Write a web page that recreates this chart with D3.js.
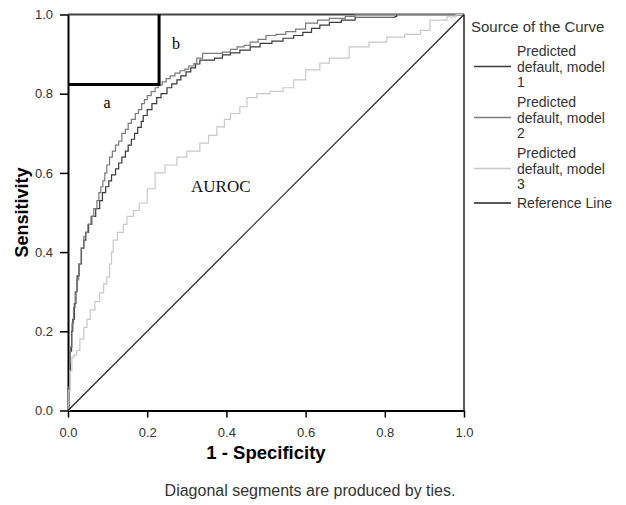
<!DOCTYPE html>
<html>
<head>
<meta charset="utf-8">
<script src="https://cdn.jsdelivr.net/npm/d3@7"></script>
<style>
  body { margin: 0; background: #fff; }
  svg { display: block; }
</style>
</head>
<body>
<svg id="chart" width="626" height="505"></svg>
<script>
// ROC points [1 - specificity, sensitivity]
const model1 = [[0,0],[0.002,0.05],[0.004,0.1],[0.006,0.15],[0.009,0.2],[0.012,0.23],[0.016,0.27],[0.02,0.3],[0.023,0.34],[0.028,0.37],[0.034,0.41],[0.04,0.43],[0.045,0.45],[0.052,0.47],[0.06,0.49],[0.07,0.51],[0.08,0.53],[0.087,0.55],[0.095,0.565],[0.103,0.58],[0.11,0.595],[0.12,0.61],[0.128,0.625],[0.136,0.64],[0.145,0.655],[0.152,0.67],[0.16,0.685],[0.168,0.7],[0.176,0.715],[0.185,0.73],[0.19,0.745],[0.2,0.76],[0.212,0.775],[0.224,0.79],[0.235,0.8],[0.25,0.815],[0.262,0.825],[0.275,0.835],[0.285,0.845],[0.298,0.855],[0.31,0.865],[0.322,0.875],[0.333,0.885],[0.37,0.89],[0.39,0.898],[0.41,0.903],[0.434,0.91],[0.46,0.918],[0.485,0.927],[0.515,0.933],[0.543,0.94],[0.57,0.947],[0.593,0.955],[0.615,0.965],[0.636,0.973],[0.66,0.98],[0.69,0.986],[0.725,0.993],[0.826,0.995],[0.83,1],[1,1]];
const model2 = [[0,0],[0.002,0.06],[0.004,0.12],[0.006,0.16],[0.01,0.22],[0.014,0.26],[0.018,0.3],[0.022,0.33],[0.027,0.37],[0.033,0.41],[0.04,0.44],[0.045,0.45],[0.05,0.47],[0.058,0.49],[0.065,0.51],[0.073,0.53],[0.078,0.55],[0.083,0.565],[0.088,0.58],[0.093,0.6],[0.098,0.62],[0.105,0.64],[0.112,0.655],[0.12,0.67],[0.128,0.68],[0.136,0.7],[0.145,0.71],[0.152,0.725],[0.16,0.735],[0.17,0.75],[0.178,0.76],[0.186,0.775],[0.193,0.785],[0.2,0.795],[0.21,0.805],[0.22,0.815],[0.228,0.822],[0.238,0.83],[0.248,0.838],[0.258,0.845],[0.27,0.852],[0.283,0.858],[0.295,0.862],[0.305,0.87],[0.318,0.876],[0.325,0.89],[0.34,0.902],[0.39,0.905],[0.41,0.912],[0.427,0.918],[0.445,0.922],[0.46,0.93],[0.48,0.937],[0.5,0.947],[0.525,0.95],[0.55,0.957],[0.575,0.963],[0.6,0.978],[0.63,0.986],[0.66,0.99],[0.7,0.995],[0.725,1],[1,1]];
const model3 = [[0,0],[0.002,0.05],[0.005,0.1],[0.01,0.135],[0.015,0.14],[0.022,0.152],[0.03,0.18],[0.04,0.21],[0.048,0.23],[0.056,0.254],[0.068,0.275],[0.08,0.297],[0.09,0.32],[0.098,0.337],[0.105,0.37],[0.11,0.4],[0.114,0.43],[0.125,0.45],[0.14,0.47],[0.149,0.49],[0.165,0.505],[0.18,0.524],[0.2,0.56],[0.22,0.6],[0.245,0.62],[0.275,0.64],[0.3,0.655],[0.333,0.675],[0.355,0.695],[0.376,0.716],[0.395,0.735],[0.41,0.75],[0.434,0.767],[0.452,0.79],[0.477,0.8],[0.51,0.806],[0.543,0.815],[0.57,0.835],[0.6,0.86],[0.636,0.877],[0.66,0.89],[0.71,0.918],[0.76,0.93],[0.805,0.943],[0.85,0.95],[0.89,0.96],[0.914,0.986],[0.957,0.994],[0.98,1],[1,1]];
const refLine = [[0,0],[1,1]];

const ticks = [0, 0.2, 0.4, 0.6, 0.8, 1.0];
const seriesNames = [
  ["Predicted", "default, model", "1"],
  ["Predicted", "default, model", "2"],
  ["Predicted", "default, model", "3"],
  ["Reference Line"]
];
const seriesColors = ["#3a3a3a", "#7a7a7a", "#c8c8c8", "#222"];
// corner of the a/b box (a point on the curve)
const boxPoint = [0.23, 0.823];

const svg = d3.select("#chart");
const plotLeft = 68, plotRight = 464, plotTop = 14.5, plotBottom = 410.5;
const sans = "Arial, 'Liberation Sans', sans-serif";
const serif = "'Liberation Serif', 'Times New Roman', serif";

const x = d3.scaleLinear().domain([0, 1]).range([plotLeft, plotRight]);
const y = d3.scaleLinear().domain([0, 1]).range([plotBottom, plotTop]);

const fmt = d3.format(".1f");

// axes
const xAxis = svg.append("g")
    .attr("transform", `translate(0,${plotBottom})`)
    .call(d3.axisBottom(x).tickValues(ticks).tickFormat(fmt).tickSize(7).tickSizeOuter(0));
const yAxis = svg.append("g")
    .attr("transform", `translate(${plotLeft},0)`)
    .call(d3.axisLeft(y).tickValues(ticks).tickFormat(fmt).tickSize(8).tickSizeOuter(0));

[xAxis, yAxis].forEach(g => {
  g.select(".domain").attr("stroke", "#000").attr("stroke-width", 2);
  g.selectAll(".tick line").attr("stroke", "#000").attr("stroke-width", 1.5);
  g.selectAll(".tick text")
    .attr("fill", "#333")
    .style("font", `13px ${sans}`);
});
xAxis.selectAll(".tick text").attr("dy", "1.27em");
yAxis.selectAll(".tick text").attr("dx", "-0.3em");

// top and right frame
svg.append("line")
    .attr("x1", plotLeft).attr("x2", plotRight).attr("y1", plotTop).attr("y2", plotTop)
    .attr("stroke", "#444").attr("stroke-width", 2);
svg.append("line")
    .attr("x1", plotRight).attr("x2", plotRight).attr("y1", plotTop).attr("y2", plotBottom)
    .attr("stroke", "#222").attr("stroke-width", 1.5);

// curves
const line = d3.line()
    .x(d => x(d[0]))
    .y(d => y(d[1]))
    .curve(d3.curveStepAfter);

const curves = [model1, model2, model3];
curves.forEach((data, i) => {
  svg.append("path")
      .datum(data)
      .attr("fill", "none")
      .attr("stroke", seriesColors[i])
      .attr("stroke-width", 1.2)
      .attr("d", line);
});

svg.append("path")
    .datum(refLine)
    .attr("fill", "none")
    .attr("stroke", seriesColors[3])
    .attr("stroke-width", 1.2)
    .attr("d", d3.line().x(d => x(d[0])).y(d => y(d[1])));

// a/b box
svg.append("path")
    .attr("fill", "none")
    .attr("stroke", "#000")
    .attr("stroke-width", 3)
    .attr("d", `M${x(0)},${y(boxPoint[1])}H${x(boxPoint[0])}V${y(1)}`);

svg.append("text").attr("x", 107).attr("y", 108).attr("text-anchor", "middle")
    .style("font", `16px ${serif}`).text("a");
svg.append("text").attr("x", 176).attr("y", 49).attr("text-anchor", "middle")
    .style("font", `16px ${serif}`).text("b");
svg.append("text").attr("x", 191).attr("y", 192)
    .style("font", `17px ${serif}`).attr("fill", "#111").text("AUROC");

// axis titles
svg.append("text")
    .attr("x", (plotLeft + plotRight) / 2).attr("y", 459)
    .attr("text-anchor", "middle")
    .style("font", `bold 18.5px ${sans}`)
    .text("1 - Specificity");
svg.append("text")
    .attr("transform", `translate(28,${(plotTop + plotBottom) / 2}) rotate(-90)`)
    .attr("text-anchor", "middle")
    .style("font", `bold 18px ${sans}`)
    .text("Sensitivity");

svg.append("text")
    .attr("x", 310).attr("y", 496)
    .attr("text-anchor", "middle")
    .attr("fill", "#333")
    .style("font", `16px ${sans}`)
    .text("Diagonal segments are produced by ties.");

// legend
const legend = svg.append("g").style("font", `14px ${sans}`).attr("fill", "#333");
legend.append("text").attr("x", 471).attr("y", 32).style("font-size", "15px").text("Source of the Curve");

const firstBaseline = [56, 107, 158, 208];
const lineGap = 15.5;
seriesNames.forEach((lines, i) => {
  const midY = (lines.length === 3 ? firstBaseline[i] + lineGap : firstBaseline[i]) - 5;
  legend.append("line")
      .attr("x1", 474).attr("x2", 511)
      .attr("y1", midY).attr("y2", midY)
      .attr("stroke", seriesColors[i]).attr("stroke-width", 1.3);
  lines.forEach((t, j) => {
    legend.append("text")
        .attr("x", 517)
        .attr("y", firstBaseline[i] + j * lineGap)
        .text(t);
  });
});
</script>
</body>
</html>
